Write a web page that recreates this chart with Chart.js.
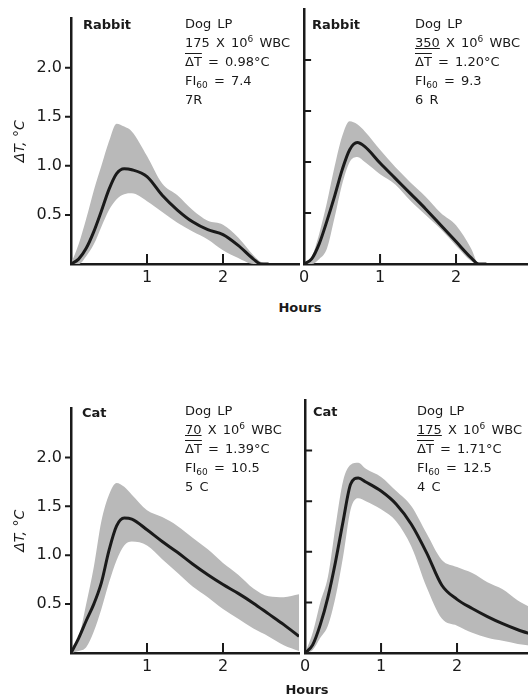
<!DOCTYPE html>
<html>
<head>
<meta charset="utf-8">
<script src="https://cdn.jsdelivr.net/npm/chart.js@4/dist/chart.umd.min.js"></script>
<style>
  html, body { margin: 0; padding: 0; background: #fff; }
  body { width: 528px; height: 700px; position: relative; overflow: hidden; font-family: "DejaVu Sans", sans-serif; color: #1a1a1a; }
  canvas { position: absolute; }
  .species { position: absolute; font-size: 13px; font-weight: bold; line-height: 16px; }
  .note { position: absolute; font-size: 13px; line-height: 19px; white-space: nowrap; word-spacing: 2px; }
  .note sub { font-size: 9px; vertical-align: -3px; line-height: 0; }
  .note sup { font-size: 9px; vertical-align: 5px; line-height: 0; }
  .bar { text-decoration: overline; }
  .und { text-decoration: underline; }
  .hours { position: absolute; font-size: 13px; font-weight: bold; width: 60px; text-align: center; }
</style>
</head>
<body>
<canvas id="rabbit175"></canvas>
<canvas id="rabbit350"></canvas>
<canvas id="cat70"></canvas>
<canvas id="cat175"></canvas>

<div class="species" style="left:83px; top:17px">Rabbit</div>
<div class="species" style="left:312px; top:17px">Rabbit</div>
<div class="species" style="left:82px; top:405px">Cat</div>
<div class="species" style="left:313px; top:404px">Cat</div>

<div class="note" style="left:185px; top:14px">Dog LP<br>175 X 10<sup>6</sup> WBC<br><span class="bar">ΔT</span> = 0.98°C<br>FI<sub>60</sub> = 7.4<br>7R</div>
<div class="note" style="left:415px; top:14px">Dog LP<br><span class="und">350</span> X 10<sup>6</sup> WBC<br><span class="bar">ΔT</span> = 1.20°C<br>FI<sub>60</sub> = 9.3<br>6 R</div>
<div class="note" style="left:185px; top:401px">Dog LP<br><span class="und">70</span> X 10<sup>6</sup> WBC<br><span class="bar">ΔT</span> = 1.39°C<br>FI<sub>60</sub> = 10.5<br>5 C</div>
<div class="note" style="left:417px; top:401px">Dog LP<br><span class="und">175</span> X 10<sup>6</sup> WBC<br><span class="bar">ΔT</span> = 1.71°C<br>FI<sub>60</sub> = 12.5<br>4 C</div>

<div class="hours" style="left:270px; top:300px">Hours</div>
<div class="hours" style="left:277px; top:682px">Hours</div>

<script>
// readings, hours after injection vs rise in temperature
const hoursRabbit175 = [0, 0.1, 0.2, 0.3, 0.4, 0.5, 0.6, 0.7, 0.8, 1.0, 1.2, 1.4, 1.6, 1.8, 2.0, 2.2, 2.4, 2.5, 2.6]
const meanRabbit175 = [0, 0.05, 0.16, 0.33, 0.54, 0.76, 0.92, 0.97, 0.96, 0.89, 0.70, 0.55, 0.43, 0.35, 0.30, 0.19, 0.05, 0, 0]
const upperRabbit175 = [0, 0.2, 0.46, 0.75, 1.0, 1.25, 1.43, 1.40, 1.35, 1.10, 0.82, 0.70, 0.55, 0.44, 0.40, 0.27, 0.09, 0.02, 0]
const lowerRabbit175 = [0, 0, 0.08, 0.2, 0.38, 0.55, 0.66, 0.71, 0.72, 0.64, 0.53, 0.42, 0.33, 0.25, 0.14, 0.06, 0, 0, 0]

const hoursRabbit350 = [0, 0.1, 0.2, 0.3, 0.4, 0.5, 0.6, 0.7, 0.8, 1.0, 1.2, 1.4, 1.6, 1.8, 2.0, 2.2, 2.3, 2.4]
const meanRabbit350 = [0, 0.05, 0.2, 0.42, 0.66, 0.92, 1.12, 1.19, 1.15, 0.99, 0.84, 0.69, 0.54, 0.38, 0.22, 0.06, 0, 0]
const upperRabbit350 = [0, 0.07, 0.3, 0.6, 0.95, 1.25, 1.40, 1.37, 1.30, 1.12, 0.95, 0.80, 0.66, 0.50, 0.38, 0.15, 0, 0]
const lowerRabbit350 = [0, 0, 0.05, 0.15, 0.45, 0.78, 1.0, 1.05, 1.0, 0.88, 0.78, 0.62, 0.48, 0.34, 0.18, 0.03, 0, 0]

const hoursCat70 = [0, 0.1, 0.2, 0.3, 0.4, 0.5, 0.6, 0.7, 0.8, 1.0, 1.2, 1.4, 1.6, 1.8, 2.0, 2.2, 2.4, 2.6, 2.8, 3.0]
const meanCat70 = [0, 0.15, 0.33, 0.5, 0.72, 1.05, 1.3, 1.38, 1.37, 1.26, 1.14, 1.03, 0.91, 0.80, 0.70, 0.61, 0.51, 0.40, 0.29, 0.17]
const upperCat70 = [0, 0.15, 0.5, 0.88, 1.35, 1.62, 1.74, 1.70, 1.62, 1.46, 1.39, 1.30, 1.18, 1.06, 0.92, 0.80, 0.66, 0.58, 0.57, 0.60]
const lowerCat70 = [0, 0.02, 0.06, 0.22, 0.45, 0.72, 0.95, 1.10, 1.14, 1.10, 0.96, 0.82, 0.68, 0.57, 0.45, 0.35, 0.25, 0.17, 0.08, 0.02]

const hoursCat175 = [0, 0.1, 0.2, 0.3, 0.4, 0.5, 0.6, 0.7, 0.8, 1.0, 1.2, 1.4, 1.6, 1.8, 2.0, 2.2, 2.4, 2.6, 2.8, 3.0]
const meanCat175 = [0, 0.08, 0.28, 0.55, 0.9, 1.3, 1.67, 1.73, 1.69, 1.60, 1.47, 1.27, 0.99, 0.67, 0.53, 0.44, 0.36, 0.29, 0.23, 0.18]
const upperCat175 = [0, 0.2, 0.5, 0.75, 1.25, 1.7, 1.86, 1.88, 1.82, 1.74, 1.60, 1.45, 1.18, 0.92, 0.85, 0.79, 0.70, 0.63, 0.52, 0.44]
const lowerCat175 = [0, 0.03, 0.15, 0.27, 0.55, 0.95, 1.42, 1.53, 1.50, 1.42, 1.30, 1.05, 0.65, 0.34, 0.27, 0.20, 0.15, 0.12, 0.09, 0.07]

const yTickValues = [0.5, 1, 1.5, 2]
const xTickValues = [1, 2]
const leftXLabels = [1, 2]
const rightXLabels = [0, 1, 2]

const INK = '#1a1a1a'
const BAND = '#b9b9b9'

// short tick marks drawn from the scales
const tickMarks = {
  id: 'tickMarks',
  afterDraw (chart, args, opts) {
    const ctx = chart.ctx
    const area = chart.chartArea
    const x = chart.scales.x
    const y = chart.scales.y
    ctx.save()
    ctx.strokeStyle = INK
    ctx.lineWidth = 2
    ctx.beginPath()
    yTickValues.forEach(v => {
      const py = y.getPixelForValue(v)
      if (opts.side === 'out') {
        ctx.moveTo(area.left - 6, py)
        ctx.lineTo(area.left, py)
      } else {
        ctx.moveTo(area.left, py)
        ctx.lineTo(area.left + 7, py)
      }
    })
    xTickValues.forEach(v => {
      const px = x.getPixelForValue(v)
      ctx.moveTo(px, area.bottom)
      ctx.lineTo(px, area.bottom - 10)
    })
    ctx.stroke()
    ctx.restore()
  }
}

function points (hours, vals) {
  return hours.map((h, i) => ({ x: h, y: vals[i] }))
}

function makePanel (id, box, area, hours, mean, upper, lower, isLeft) {
  const canvas = document.getElementById(id)
  canvas.width = box.w
  canvas.height = box.h
  canvas.style.left = box.left + 'px'
  canvas.style.top = box.top + 'px'

  const yWidth = area.left - box.left
  const xHeight = box.top + box.h - area.bottom
  const xLabels = isLeft ? leftXLabels : rightXLabels

  // the first dataset is painted last, so the mean line goes first
  return new Chart(canvas, {
    type: 'line',
    data: {
      datasets: [{
        data: points(hours, mean),
        borderWidth: 3,
        borderColor: INK,
        fill: false,
        pointRadius: 0,
        cubicInterpolationMode: 'monotone'
      }, {
        data: points(hours, upper),
        borderWidth: 0,
        borderColor: BAND,
        backgroundColor: BAND,
        fill: '+1',
        pointRadius: 0,
        cubicInterpolationMode: 'monotone'
      }, {
        data: points(hours, lower),
        borderWidth: 0,
        borderColor: BAND,
        fill: false,
        pointRadius: 0,
        cubicInterpolationMode: 'monotone'
      }]
    },
    options: {
      responsive: false,
      animation: false,
      devicePixelRatio: 1,
      layout: {
        autoPadding: false,
        padding: { left: 0, top: area.top - box.top, right: box.left + box.w - area.right, bottom: 0 }
      },
      plugins: {
        legend: { display: false },
        tooltip: { enabled: false },
        tickMarks: { side: isLeft ? 'out' : 'in' }
      },
      scales: {
        x: {
          type: 'linear',
          min: 0,
          max: 3,
          afterFit: s => { s.height = xHeight },
          grid: { display: false, drawTicks: false },
          border: { display: true, color: INK, width: 2.5 },
          ticks: {
            stepSize: 1,
            padding: 4,
            color: INK,
            font: { family: 'DejaVu Sans', size: 16 },
            maxRotation: 0,
            callback: v => xLabels.includes(v) ? String(v) : ''
          }
        },
        y: {
          min: 0,
          max: 2.5,
          afterFit: s => { s.width = yWidth },
          grid: { display: false, drawTicks: false },
          border: { display: true, color: INK, width: 2.5 },
          title: {
            display: isLeft,
            text: 'ΔT, °C',
            color: INK,
            font: { family: 'DejaVu Sans', size: 14, style: 'italic' },
            padding: { top: 12, bottom: 0 }
          },
          ticks: {
            display: isLeft,
            stepSize: 0.5,
            padding: 9,
            color: INK,
            font: { family: 'DejaVu Sans', size: 16 },
            callback: v => yTickValues.includes(v) ? v.toFixed(1) : ''
          }
        }
      }
    },
    plugins: [tickMarks]
  })
}

makePanel('rabbit175', { left: 0, top: 0, w: 303, h: 300 }, { left: 71, top: 9, right: 302, bottom: 264 },
  hoursRabbit175, meanRabbit175, upperRabbit175, lowerRabbit175, true)
makePanel('rabbit350', { left: 295, top: 0, w: 241, h: 300 }, { left: 303, top: 9, right: 534, bottom: 264 },
  hoursRabbit350, meanRabbit350, upperRabbit350, lowerRabbit350, false)
makePanel('cat70', { left: 0, top: 390, w: 303, h: 300 }, { left: 71, top: 400, right: 302, bottom: 653 },
  hoursCat70, meanCat70, upperCat70, lowerCat70, true)
makePanel('cat175', { left: 296, top: 390, w: 241, h: 300 }, { left: 304, top: 400, right: 535, bottom: 653 },
  hoursCat175, meanCat175, upperCat175, lowerCat175, false)
</script>
</body>
</html>
